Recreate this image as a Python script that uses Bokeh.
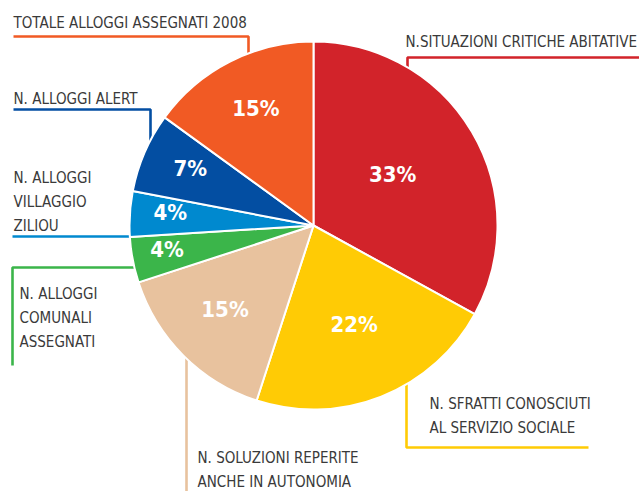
import math
from bokeh.plotting import figure
from bokeh.models import Range1d, ColumnDataSource
from bokeh.core.properties import value
from bokeh.embed import file_html
from bokeh.resources import INLINE

# ---- data ----
categories = [
    "N.SITUAZIONI CRITICHE ABITATIVE",
    "N. SFRATTI CONOSCIUTI AL SERVIZIO SOCIALE",
    "N. SOLUZIONI REPERITE ANCHE IN AUTONOMIA",
    "N. ALLOGGI COMUNALI ASSEGNATI",
    "N. ALLOGGI VILLAGGIO ZILIOU",
    "N. ALLOGGI ALERT",
    "TOTALE ALLOGGI ASSEGNATI 2008",
]
percent = [33, 22, 15, 4, 4, 7, 15]
label_lines = [
    ["N.SITUAZIONI CRITICHE ABITATIVE"],
    ["N. SFRATTI CONOSCIUTI", "AL SERVIZIO SOCIALE"],
    ["N. SOLUZIONI REPERITE", "ANCHE IN AUTONOMIA"],
    ["N. ALLOGGI", "COMUNALI", "ASSEGNATI"],
    ["N. ALLOGGI", "VILLAGGIO", "ZILIOU"],
    ["N. ALLOGGI ALERT"],
    ["TOTALE ALLOGGI ASSEGNATI 2008"],
]
colors = ["#D2232A", "#FFCB05", "#E8C29E", "#3BB54A", "#0089CF", "#034EA2", "#F15A24"]

FONT = "DejaVu Sans Condensed"

# ---- layout (reference pixel coordinates, y downward) ----
W, H = 639, 491
CX, CY, R = 313, 225, 184
pct_radius = [0.50, 0.60, 0.68, 0.81, 0.78, 0.73, 0.69]
text_pos = [  # x, first baseline
    (405, 47), (429, 409), (197, 463), (19, 299), (13, 183), (13, 104), (13, 28)
]
line_step = 24
BASE_SHIFT = 6      # compensates the renderer's baseline placement
PCT_SHIFT = 4
leaders = [
    [(639, 57), (407, 57), (407, 72)],
    [(406, 380), (406, 447), (588, 447)],
    [(186, 491), (186, 355)],
    [(12, 365), (12, 267), (137, 267)],
    [(12, 236), (132, 236)],
    [(13, 109), (150, 109), (150, 142)],
    [(13, 36), (248, 36), (248, 58)],
]

def Y(y):
    return H - y

p = figure(width=W, height=H, output_backend="svg", toolbar_location=None,
           x_range=Range1d(0, W), y_range=Range1d(0, H),
           x_axis_type=None, y_axis_type=None, min_border=0)
p.grid.visible = False
p.outline_line_color = None
p.background_fill_color = "white"

# leader lines
for pts, c in zip(leaders, colors):
    p.line([q[0] for q in pts], [Y(q[1]) for q in pts], line_color=c, line_width=2.6)

# wedges
total = sum(percent)
starts, ends, mids = [], [], []
acc = 0.0
for v in percent:
    a0 = math.pi / 2 - acc / total * 2 * math.pi
    acc += v
    a1 = math.pi / 2 - acc / total * 2 * math.pi
    starts.append(a0)
    ends.append(a1)
    mids.append((a0 + a1) / 2)

src = ColumnDataSource(dict(start=starts, end=ends, color=colors))
p.wedge(x=CX, y=Y(CY), radius=R, start_angle="start", end_angle="end",
        direction="clock", fill_color="color", line_color="white", line_width=2,
        source=src)

# percentage labels
px = [CX + f * R * math.cos(m) for f, m in zip(pct_radius, mids)]
py = [Y(CY) + f * R * math.sin(m) + PCT_SHIFT for f, m in zip(pct_radius, mids)]
p.text(px, py, text=[f"{v}%" for v in percent], text_color="white",
       text_font=value(FONT), text_font_style="bold",
       text_font_size="22px", text_align="center", text_baseline="middle")

# category labels
tx, ty, tt = [], [], []
for (x0, y0), lines in zip(text_pos, label_lines):
    for i, s in enumerate(lines):
        tx.append(x0)
        ty.append(Y(y0 + i * line_step - BASE_SHIFT))
        tt.append(s)
p.text(tx, ty, text=tt, text_color="#3a3a3a",
       text_font=value(FONT), text_font_size="15px",
       text_align="left", text_baseline="alphabetic")

open("out.html", "w").write(file_html(p, INLINE))
